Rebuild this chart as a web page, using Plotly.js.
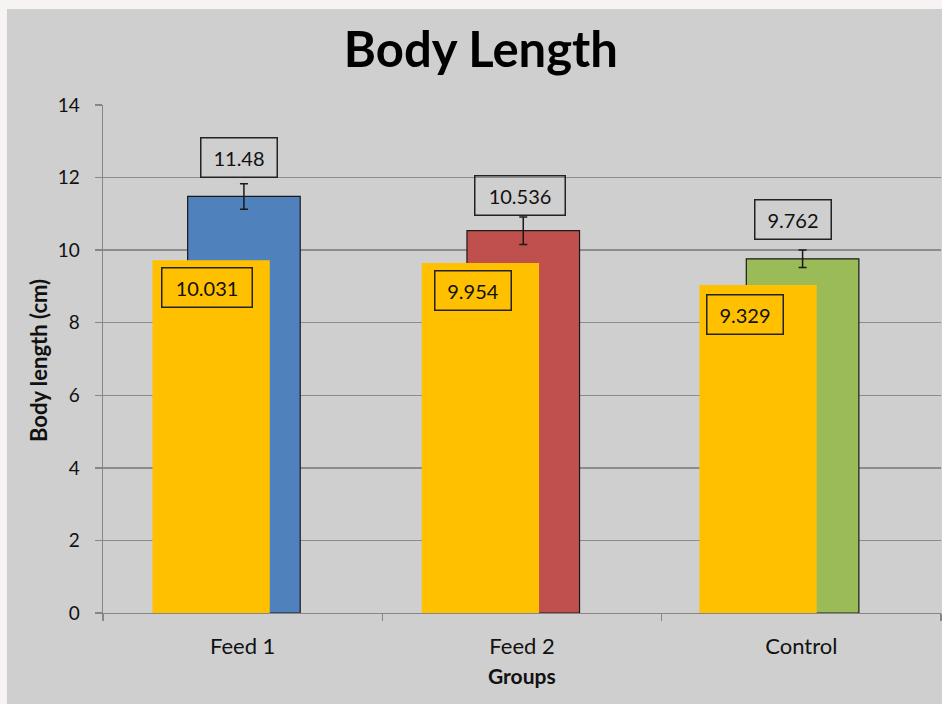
<!DOCTYPE html>
<html>
<head>
<meta charset="utf-8">
<script src="https://cdn.plot.ly/plotly-3.0.1.min.js"></script>
<style>html,body{margin:0;padding:0;background:#f7f3f3;}#chart{width:942px;height:704px;}</style>
</head>
<body>
<div id="chart"></div>
<script>
// ---- data ----
const groups = ['Feed 1', 'Feed 2', 'Control'];
const meanLength = [11.48, 10.536, 9.762];
const errLength = [0.35, 0.38, 0.24];
const yellowValues = [10.031, 9.954, 9.329];
const yTicks = [0, 2, 4, 6, 8, 10, 12, 14];

// ---- style ----
const barColors = ['#4F81BD', '#C0504D', '#9BBB59'];
const yellow = '#FFC000';
const FONT = 'Lato, "Open Sans", sans-serif';
const yellowOffsets = [-0.323, -0.359, -0.365];
const mainLabelShift = {x: [-4, -2.5, -8], y: [6, 1, 10]};
const yellowLabelShift = {x: [-82, -88, -95], y: [-7, -7, -9]};

const mainBars = {
  type: 'bar', x: groups, y: meanLength,
  width: 0.403, offset: -0.197,
  marker: {color: barColors, line: {color: '#1a1a1a', width: 1.2}},
  error_y: {type: 'data', array: errLength, visible: true, color: '#1a1a1a', thickness: 1.5, width: 4},
  xaxis: 'x', yaxis: 'y', hoverinfo: 'x+y', showlegend: false
};
const yellowBars = {
  type: 'bar', x: groups, y: yellowValues,
  width: 0.42, offset: yellowOffsets,
  marker: {color: yellow, line: {width: 0}},
  xaxis: 'x', yaxis: 'y2', hoverinfo: 'x+y', showlegend: false
};

function boxWidth(s) { return 14 * s.length - 11; }

const annotations = [];
groups.forEach((g, i) => {
  const t = String(meanLength[i]);
  annotations.push({
    x: g, y: meanLength[i] + errLength[i], xref: 'x', yref: 'y',
    xanchor: 'center', yanchor: 'bottom', yshift: mainLabelShift.y[i], xshift: mainLabelShift.x[i],
    text: t, showarrow: false, width: boxWidth(t), height: 22,
    font: {family: FONT, size: 20, color: '#111'},
    bordercolor: '#222', borderwidth: 1.5, borderpad: 8, bgcolor: 'rgba(0,0,0,0)'
  });
  const ty = String(yellowValues[i]);
  annotations.push({
    x: g, y: yellowValues[i], xref: 'x', yref: 'y2',
    xanchor: 'left', yanchor: 'top', yshift: yellowLabelShift.y[i], xshift: yellowLabelShift.x[i],
    text: ty, showarrow: false, width: boxWidth(ty), height: 22,
    font: {family: FONT, size: 20, color: '#111'},
    bordercolor: '#222', borderwidth: 1.5, borderpad: 8, bgcolor: yellow
  });
});
annotations.push({
  text: '<b>Body length (cm)</b>', textangle: -90, showarrow: false,
  xref: 'paper', yref: 'paper', x: -0.0776, y: 0.498, xanchor: 'center', yanchor: 'middle',
  font: {family: FONT, size: 22, color: '#111'}
});
annotations.push({
  text: '<b>Groups</b>', showarrow: false,
  xref: 'paper', yref: 'paper', x: 0.4995, y: -0.124, xanchor: 'center', yanchor: 'middle',
  font: {family: FONT, size: 21, color: '#111'}
});

const layout = {
  width: 942, height: 704,
  margin: {l: 103, r: 1, t: 105, b: 91},
  paper_bgcolor: '#f7f3f3', plot_bgcolor: '#cfcfcf',
  barmode: 'overlay',
  title: {text: '<b>Body Length</b>', x: 0.5105, xref: 'container', y: 0.929, yref: 'container',
          xanchor: 'center', yanchor: 'middle', font: {family: FONT, size: 49, color: '#000'}},
  xaxis: {
    type: 'category', range: [-0.5, 2.5], tickson: 'boundaries', ticks: 'outside', ticklen: 7,
    tickcolor: '#868686', tickwidth: 1.3, showline: true, linecolor: '#868686', linewidth: 1.3,
    showgrid: false, tickfont: {family: FONT, size: 22, color: '#111'}, ticklabelstandoff: 13,
    fixedrange: true
  },
  yaxis: {
    range: [0, 14], tickvals: yTicks, ticks: 'outside', ticklen: 7, tickcolor: '#868686', tickwidth: 1.3,
    showline: true, linecolor: '#868686', linewidth: 1.3,
    showgrid: true, gridcolor: '#8c8c8c', gridwidth: 1.3, zeroline: false,
    tickfont: {family: FONT, size: 19, color: '#111'}, ticklabelstandoff: 11, fixedrange: true
  },
  yaxis2: {
    overlaying: 'y', range: [0, 14.45], visible: false, showgrid: false, zeroline: false, fixedrange: true
  },
  shapes: [{
    type: 'rect', xref: 'paper', yref: 'paper', x0: -0.1146, x1: 1.01, y0: -0.2, y1: 1.189,
    fillcolor: '#cfcfcf', line: {width: 0}, layer: 'below'
  }],
  annotations: annotations
};

Plotly.newPlot('chart', [mainBars, yellowBars], layout, {displayModeBar: false, staticPlot: true});
</script>
</body>
</html>
